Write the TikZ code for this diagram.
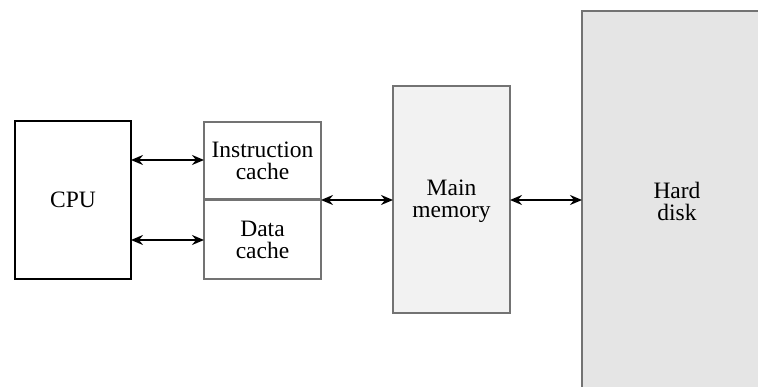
\documentclass[tikz,border=0pt]{standalone}
\usepackage{fontspec}
\setmainfont{Liberation Serif}
\usetikzlibrary{arrows.meta}
\begin{document}
\begin{tikzpicture}[x=1pt,y=-1pt,
  lbl/.style={font=\fontsize{23.5}{22}\selectfont, align=center, inner sep=0pt},
  graybox/.style={draw=black!55, line width=2.4pt},
  link/.style={line width=2.4pt, {Stealth[length=12pt,width=10pt,inset=4pt]}-{Stealth[length=12pt,width=10pt,inset=4pt]}}]
\useasboundingbox (0,0) rectangle (758,387);
\clip (0,0) rectangle (758,387);
% boxes
\draw[line width=2.4pt, fill=white] (15,121) rectangle (131,279);
\node[lbl] (cpu) at (73,200) {CPU};
\coordinate (cpuR1) at (131,160);
\coordinate (cpuR2) at (131,240);
\draw[graybox, fill=white] (204,122) rectangle (321,279);
\draw[graybox] (204,199.5) -- (321,199.5);
\node[lbl] (ic) at (262.5,161) {Instruction\\cache};
\node[lbl] (dc) at (262.5,240) {Data\\cache};
\coordinate (icL) at (204,160);
\coordinate (dcL) at (204,240);
\coordinate (cacheR) at (321,200);
\draw[graybox, fill=black!5] (393,86) rectangle (510,313);
\node[lbl] (mm) at (451.5,201) {Main\\memory};
\coordinate (mmL) at (393,200);
\coordinate (mmR) at (510,200);
\draw[graybox, fill=black!10] (582,11) rectangle (775,400);
\node[lbl] (hd) at (677,201) {Hard\\disk};
\coordinate (hdL) at (582,200);
% connectors
\draw[link] (cpuR1) -- (icL);
\draw[link] (cpuR2) -- (dcL);
\draw[link] (cacheR) -- (mmL);
\draw[link] (mmR) -- (hdL);
\end{tikzpicture}
\end{document}
